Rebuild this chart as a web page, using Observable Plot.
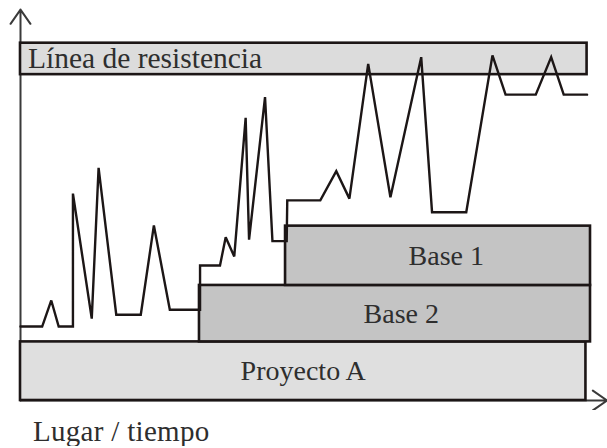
<!DOCTYPE html>
<html>
<head>
<meta charset="utf-8">
<script src="https://cdn.jsdelivr.net/npm/d3@7"></script>
<script src="https://cdn.jsdelivr.net/npm/@observablehq/plot@0.6"></script>
<style>
  html, body { margin: 0; padding: 0; background: #fff; }
  #chart svg { display: block; }
  #caption {
    font-family: "Liberation Serif", "DejaVu Serif", serif;
    font-size: 29px; line-height: 29px; color: #2e2e2e;
    padding-left: 33px; margin-top: 7px; letter-spacing: 0.3px;
  }
</style>
</head>
<body>
<div id="chart"></div>
<div id="caption"></div>
<script>
// Horizontal axis: place / time (0–100), vertical: level (0–100)
const lineT = [0, 3.8, 5.4, 6.7, 9.2, 9.2, 12.5, 13.7, 16.8, 21.1, 23.4, 26.2, 31.5, 31.5, 35.0, 36.0, 37.5, 39.5, 40.1, 42.9, 44.2, 46.7, 46.8, 52.6, 55.4, 57.7, 61.0, 64.9, 70.3, 72.2, 78.2, 82.8, 85.1, 90.4, 93.1, 95.3, 99.4];
const lineV = [20.7, 20.7, 28.0, 20.7, 20.7, 57.9, 22.9, 65.1, 24.0, 24.0, 49.0, 25.4, 25.4, 37.8, 37.8, 45.7, 40.3, 79.1, 45.0, 84.9, 44.6, 44.6, 56.0, 56.0, 64.2, 56.5, 94.2, 56.9, 96.1, 52.7, 52.7, 96.6, 85.6, 85.6, 96.1, 85.6, 85.6];

const blockNames = ["Proyecto A", "Base 2", "Base 1", "Línea de resistencia"];
const blockX1 = [0, 31.4, 46.5, 0];
const blockX2 = [99.2, 100, 100, 99.4];
const blockY1 = [0, 16.4, 32.2, 91.2];
const blockY2 = [16.4, 32.2, 48.8, 100];
const labelT = [49.6, 66.8, 74.7, 1.3];

const axisTitle = "Lugar / tiempo";
const axisEnds = { xEnd: 102.9, yEnd: 109.4 };

const fills = {"Proyecto A": "#dfdfdf", "Base 2": "#c4c4c4", "Base 1": "#c4c4c4", "Línea de resistencia": "#dcdcdc"};

const blocks = blockNames.map((name, i) => ({
  name, x1: blockX1[i], x2: blockX2[i], y1: blockY1[i], y2: blockY2[i],
  lx: labelT[i], ly: (blockY1[i] + blockY2[i]) / 2
}));
const line = lineT.map((t, i) => ({t, v: lineV[i]}));
const axes = [
  {x1: 0, y1: 0, x2: 0, y2: axisEnds.yEnd},
  {x1: 0, y1: 0, x2: axisEnds.xEnd, y2: 0}
];

const dark = "#1c1616";
const plot = Plot.plot({
  width: 607,
  height: 410,
  x: {domain: [0, 100], range: [20, 590], axis: null},
  y: {domain: [0, 100], range: [400, 42.7], axis: null},
  style: {fontFamily: "Liberation Serif, DejaVu Serif, serif", background: "#fff"},
  marks: [
    Plot.arrow(axes, {x1: "x1", y1: "y1", x2: "x2", y2: "y2", stroke: "#3a3a3a", strokeWidth: 2, headLength: 13, headAngle: 70}),
    Plot.rect(blocks, {x1: "x1", x2: "x2", y1: "y1", y2: "y2", fill: d => fills[d.name], stroke: dark, strokeWidth: 2.6}),
    Plot.line(line, {x: "t", y: "v", stroke: dark, strokeWidth: 2.4, strokeLinejoin: "miter", strokeMiterlimit: 3}),
    Plot.text(blocks.filter(d => d.name !== "Línea de resistencia"), {x: "lx", y: "ly", text: "name", fontSize: 28, fill: "#2e2e2e", textAnchor: "middle", lineAnchor: "middle"}),
    Plot.text(blocks.filter(d => d.name === "Línea de resistencia"), {x: "lx", y: "ly", text: "name", fontSize: 29.5, fill: "#2e2e2e", textAnchor: "start", lineAnchor: "middle"})
  ]
});
document.getElementById("chart").appendChild(plot);
document.getElementById("caption").textContent = axisTitle;
</script>
</body>
</html>
